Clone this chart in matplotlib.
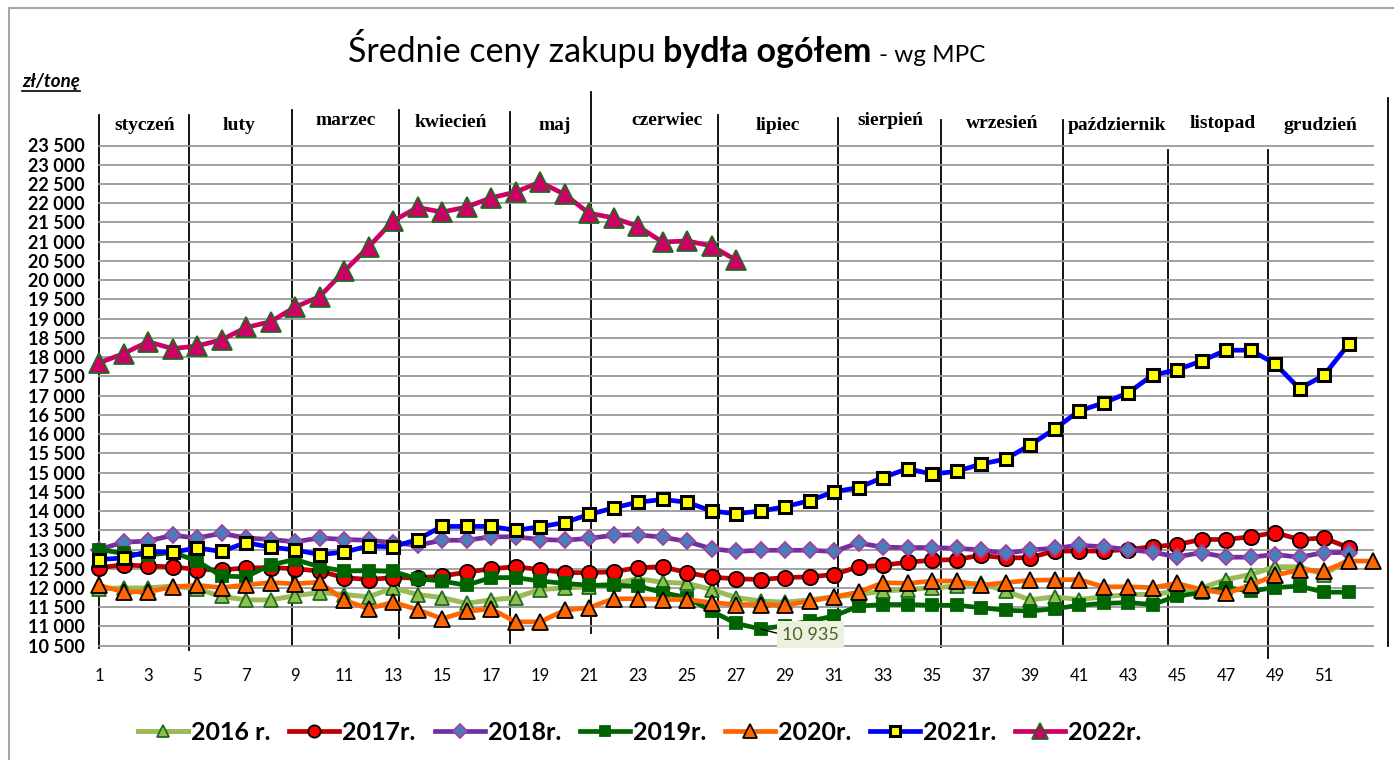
import numpy as np
import matplotlib
matplotlib.use("Agg")
import matplotlib.pyplot as plt
from matplotlib.lines import Line2D
from matplotlib.patches import Rectangle

# dane tygodniowe, zł/tonę
y2016 = [11980, 12000, 12000, 12050, 11980, 11780, 11690, 11690, 11800, 11880,
         11830, 11770, 12000, 11830, 11750, 11600, 11690, 11750, 11960, 12000,
         12030, 12120, 12240, 12150, 12120, 11960, 11750, 11660, 11630, 11690,
         11770, 11830, 11920, 11960, 12000, 12050, 12130, 11920, 11690, 11770,
         11700, 11770, 11830, 11830, 11920, 12000, 12220, 12350, 12550, 12550,
         12350, 12740]
y2017 = [12530, 12600, 12570, 12550, 12480, 12470, 12520, 12530, 12500, 12440,
         12270, 12220, 12270, 12260, 12310, 12410, 12500, 12550, 12480, 12400,
         12400, 12420, 12530, 12550, 12400, 12280, 12240, 12220, 12270, 12290,
         12350, 12550, 12590, 12670, 12720, 12740, 12850, 12780, 12790, 12960,
         12960, 12960, 13000, 13070, 13130, 13260, 13260, 13330, 13440, 13260,
         13300, 13050]
y2018 = [13000, 13190, 13220, 13370, 13300, 13420, 13300, 13260, 13200, 13300,
         13260, 13240, 13180, 13110, 13240, 13240, 13330, 13330, 13260, 13240,
         13290, 13370, 13380, 13320, 13210, 13020, 12950, 12980, 12980, 12980,
         12950, 13170, 13060, 13050, 13050, 13030, 12990, 12900, 12990, 13030,
         13110, 13070, 13000, 12930, 12810, 12920, 12800, 12800, 12870, 12800,
         12920, 12920]
y2019 = [13000, 12900, 12850, 12930, 12700, 12310, 12290, 12600, 12740, 12550,
         12440, 12450, 12430, 12240, 12180, 12070, 12270, 12270, 12180, 12120,
         12070, 12070, 12050, 11880, 11750, 11400, 11080, 10935, 11020, 11140,
         11270, 11530, 11570, 11570, 11550, 11550, 11490, 11420, 11400, 11460,
         11550, 11600, 11620, 11570, 11790, 11880, 12010, 11920, 12010, 12050,
         11890, 11890]
y2020 = [12070, 11900, 11900, 12030, 12070, 12010, 12080, 12140, 12110, 12150,
         11690, 11460, 11630, 11440, 11200, 11390, 11460, 11120, 11120, 11420,
         11490, 11720, 11720, 11700, 11700, 11620, 11570, 11570, 11550, 11660,
         11770, 11890, 12140, 12120, 12180, 12180, 12070, 12140, 12200, 12210,
         12220, 12030, 12030, 12010, 12120, 11960, 11860, 12070, 12330, 12470,
         12440, 12700, 12700]
y2021 = [12740, 12780, 12950, 12930, 13040, 12950, 13180, 13060, 12990, 12870,
         12930, 13090, 13070, 13260, 13600, 13600, 13600, 13500, 13590, 13700,
         13910, 14080, 14230, 14300, 14230, 14000, 13930, 14000, 14110, 14270,
         14500, 14610, 14870, 15100, 14960, 15030, 15220, 15350, 15715, 16130,
         16600, 16810, 17070, 17530, 17670, 17900, 18180, 18180, 17830, 17180,
         17530, 18330]
y2022 = [17850, 18090, 18400, 18220, 18290, 18450, 18770, 18920, 19300, 19570,
         20230, 20860, 21540, 21890, 21770, 21900, 22140, 22290, 22550, 22230,
         21740, 21620, 21400, 20990, 21020, 20890, 20520]

labels = ["2016 r.", "2017r.", "2018r.", "2019r.", "2020r.", "2021r.", "2022r."]

months = ["styczeń", "luty", "marzec", "kwiecień", "maj", "czerwiec", "lipiec",
          "sierpień", "wrzesień", "październik", "listopad", "grudzień"]
# granice miesięcy w numerach tygodni (ręcznie rysowane kreski)
month_bounds = [1, 4.67, 8.88, 13.24, 17.78, 21.08, 26.27, 31.16, 35.37, 40.35,
                44.63, 48.71, 53.6]
bound_top = [24290, 24290, 24420, 24420, 24360, 24880, 24290, 24210, 24160,
             24160, 23380, 23380, 24730]
bound_bottom = [10440, 10390, 10520, 10700, 10570, 10830, 10700, 10570, 10470,
                10550, 10550, 10180, 10490]
month_label_x = [2.85, 6.7, 11.05, 15.35, 19.6, 24.2, 28.7, 33.3, 37.85, 42.55,
                 46.85, 50.85]
month_label_y = [24030, 24030, 24160, 24110, 24010, 24140, 24030, 24160, 24060,
                 24030, 24060, 24030]

W, H = 1394, 760
FONT = ["Lato", "DejaVu Sans"]

styles = [
    dict(color="#9BBB59", marker="^", mfc="#92C050", mec="#1E6B1E", ms=10, lw=3.6),
    dict(color="#C00000", marker="o", mfc="#FF0000", mec="black", ms=11, lw=3.4),
    dict(color="#7030A0", marker="D", mfc="#4A7EBB", mec="#A040A0", ms=8.5, lw=3.4),
    dict(color="#006400", marker="s", mfc="#006400", mec="#006400", ms=9, lw=3.4),
    dict(color="#FF6600", marker="^", mfc="#FF6600", mec="black", ms=12, lw=3.4),
    dict(color="#0000FF", marker="s", mfc="#FFFF00", mec="black", ms=9, lw=3.4,
         mew=2.2),
    dict(color="#CC0066", marker="^", mfc="#CC0066", mec="#1E6B1E", ms=14, lw=3.4),
]
series = [y2016, y2017, y2018, y2019, y2020, y2021, y2022]

fig = plt.figure(figsize=(W / 100, H / 100), dpi=100)
ax = fig.add_axes([99 / W, 1 - 645.7 / H, (1373 - 99) / W, (645.7 - 145.5) / H])

ax.set_xlim(1, 53)
ax.set_ylim(10500, 23500)
ax.set_yticks(np.arange(10500, 23501, 500))
ax.set_yticklabels([f"{v // 1000} {v % 1000:03d}" for v in range(10500, 23501, 500)])
ax.set_xticks(np.arange(1, 52, 2))
ax.tick_params(axis="y", length=0, pad=10, labelsize=13)
ax.tick_params(axis="x", length=0, pad=16, labelsize=12)
for t in ax.get_yticklabels():
    t.set_fontweight("bold")
    t.set_family(FONT)
for t in ax.get_xticklabels():
    t.set_family(FONT)
ax.yaxis.grid(True, color="#9A9A9A", lw=1.3)
for gl in ax.get_ygridlines():
    gl.set_clip_on(False)
for s in ax.spines.values():
    s.set_visible(False)

# kreski miesięcy
for xb, top, bot in zip(month_bounds, bound_top, bound_bottom):
    ax.plot([xb, xb], [bot, top], color="black", lw=1.3, clip_on=False, zorder=1)
for name, xm, ym in zip(months, month_label_x, month_label_y):
    ax.text(xm, ym, name, ha="center", va="center", fontsize=14,
            fontweight="bold", family="Liberation Serif")

handles = []
for ys, st in zip(series, styles):
    weeks = np.arange(1, len(ys) + 1)
    h, = ax.plot(weeks, ys, color=st["color"], lw=st["lw"], marker=st["marker"],
                 markerfacecolor=st["mfc"], markeredgecolor=st["mec"],
                 markersize=st["ms"], markeredgewidth=st.get("mew", 1.3),
                 clip_on=False, zorder=3)
    handles.append(h)

# etykieta minimum 2019
min_i = int(np.argmin(y2019))
ax.annotate(f"{y2019[min_i] // 1000} {y2019[min_i] % 1000:03d}",
            xy=(min_i + 1, y2019[min_i]), xytext=(36, -4), textcoords="offset points",
            ha="center", va="center", fontsize=13, color="#4F6228", family=FONT,
            bbox=dict(boxstyle="square,pad=0.3", fc="#EBF1DE", ec="none"),
            arrowprops=dict(arrowstyle="-", color="black", lw=1, shrinkA=0, shrinkB=0,
                            relpos=(0, 0.5)),
            zorder=5)

fig.legend(handles, labels, loc="center", bbox_to_anchor=(0.459, 1 - 732 / H),
           ncol=7, frameon=False, handlelength=2.0, columnspacing=0.75,
           handletextpad=0.12, markerscale=0.8,
           prop=dict(family=FONT, weight="bold", size=18))

# tytuł z fragmentami o różnej grubości
renderer = fig.canvas.get_renderer()
parts = [("Średnie ceny zakupu", "normal", 24.5, 7), ("bydła ogółem", "bold", 24.5, 8),
         ("- wg MPC", "normal", 17.5, 0)]
texts = []
for s, wgt, size, gap in parts:
    texts.append(fig.text(0, 1 - 62 / H, s, fontsize=size, fontweight=wgt,
                          family=FONT, va="baseline", ha="left"))
widths = [t.get_window_extent(renderer).width for t in texts]
total = sum(widths) + sum(p[3] for p in parts)
x = 667 - total / 2
for t, wdt, p in zip(texts, widths, parts):
    t.set_x(x / W)
    x += wdt + p[3]

unit = fig.text(22 / W, 1 - 87 / H, "zł/tonę", fontsize=13.5, fontweight="bold",
                style="italic", family=FONT, va="baseline", ha="left")
ub = unit.get_window_extent(renderer)
fig.add_artist(Line2D([ub.x0 / W, ub.x1 / W], [1 - 91 / H, 1 - 91 / H],
                      color="black", lw=1.2))

fig.patches.append(Rectangle((9 / W, -0.05), 1.1, 1.05 - 8 / H,
                             transform=fig.transFigure, fill=False,
                             ec="#A6A6A6", lw=1.5))

fig.savefig("out.png", dpi=100)
